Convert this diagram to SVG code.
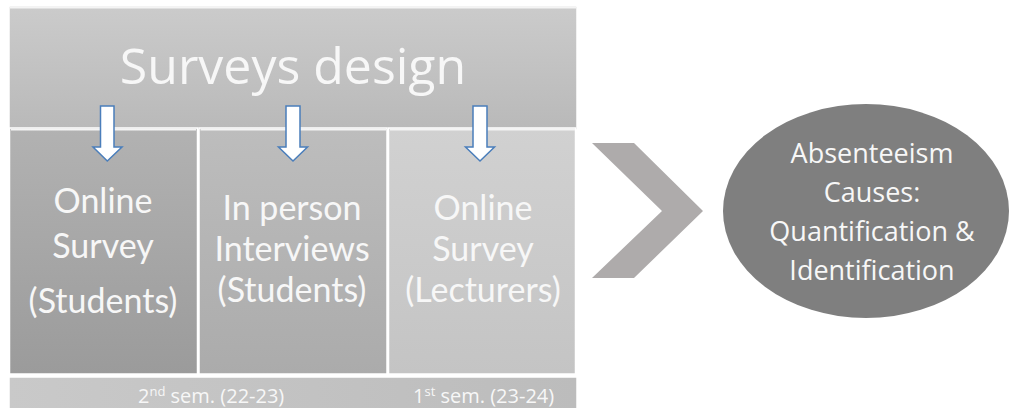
<svg xmlns="http://www.w3.org/2000/svg" width="1011" height="408" viewBox="0 0 1011 408">
  <defs>
    <linearGradient id="gTop" x1="0" y1="0" x2="0" y2="1">
      <stop offset="0" stop-color="#cbcbcb"/>
      <stop offset="1" stop-color="#b9b9b9"/>
    </linearGradient>
    <linearGradient id="gC1" x1="0" y1="0" x2="0" y2="1">
      <stop offset="0" stop-color="#b2b2b2"/>
      <stop offset="1" stop-color="#9b9b9b"/>
    </linearGradient>
    <linearGradient id="gC2" x1="0" y1="0" x2="0" y2="1">
      <stop offset="0" stop-color="#bdbdbd"/>
      <stop offset="1" stop-color="#ababab"/>
    </linearGradient>
    <linearGradient id="gC3" x1="0" y1="0" x2="0" y2="1">
      <stop offset="0" stop-color="#d1d1d1"/>
      <stop offset="1" stop-color="#c4c4c4"/>
    </linearGradient>
    <linearGradient id="gBand" x1="0" y1="0" x2="1" y2="0">
      <stop offset="0" stop-color="#c9c9c9"/>
      <stop offset="1" stop-color="#bcbcbc"/>
    </linearGradient>
    <style>
      .box { stroke: #ffffff; stroke-width: 1.5; }
      .hl { stroke: #f4f4f4; stroke-width: 2; fill: none; }
      .lbl { font-family: "Open Sans", "Liberation Sans", sans-serif; fill: #f7f7f7; text-anchor: middle; }
      .col { font-family: Lato, "Open Sans", sans-serif; font-size: 34px; }
      .sem { font-family: "Open Sans", "Liberation Sans", sans-serif; fill: #f7f7f7; font-size: 20px; }
      .arrow { fill: #ffffff; stroke: #4a7ebb; stroke-width: 1.5; stroke-linejoin: miter; }
    </style>
  </defs>
  <rect width="1011" height="408" fill="#ffffff"/>

  <g id="surveys-design">
    <rect class="box" x="9" y="6" width="568" height="124" fill="url(#gTop)"/>
    <path class="hl" d="M10 7.5 H576"/>
    <text class="lbl" x="293" y="84" font-size="50">Surveys design</text>
  </g>

  <g id="online-survey-students">
    <rect class="box" x="9.5" y="128" width="188" height="246" fill="url(#gC1)"/>
    <path class="hl" d="M11 129.5 H196"/>
    <text class="lbl col" x="103" y="213">Online</text>
    <text class="lbl col" x="103" y="258">Survey</text>
    <text class="lbl col" x="103" y="313">(Students)</text>
  </g>

  <g id="in-person-interviews">
    <rect class="box" x="199" y="128" width="188" height="246" fill="url(#gC2)"/>
    <path class="hl" d="M200.5 129.5 H386"/>
    <text class="lbl col" x="292" y="220">In person</text>
    <text class="lbl col" x="292" y="261">Interviews</text>
    <text class="lbl col" x="292" y="302">(Students)</text>
  </g>

  <g id="online-survey-lecturers">
    <rect class="box" x="388.5" y="128" width="187" height="246" fill="url(#gC3)"/>
    <path class="hl" d="M390 129.5 H575"/>
    <text class="lbl col" x="483" y="220">Online</text>
    <text class="lbl col" x="483" y="261">Survey</text>
    <text class="lbl col" x="483" y="302">(Lecturers)</text>
  </g>

  <g id="semesters">
    <rect class="box" x="9" y="377" width="568" height="36" fill="url(#gBand)"/>
    <text class="sem" x="138" y="403">2<tspan font-size="13" dy="-7">nd</tspan><tspan dy="7"> sem. (22-23)</tspan></text>
    <text class="sem" x="413" y="403">1<tspan font-size="13" dy="-7">st</tspan><tspan dy="7"> sem. (23-24)</tspan></text>
  </g>

  <g id="connectors">
    <path class="arrow" d="M100.5 106 H114 V147 H122 L107.3 161 L93 147 H100.5 Z"/>
    <path class="arrow" d="M286 106 H300 V147 H307.5 L293 161 L278.5 147 H286 Z"/>
    <path class="arrow" d="M473 106 H487 V147 H494.5 L480 161 L465.5 147 H473 Z"/>
    <polygon points="592,143 634,143 703,211 634,278 592,278 662,211" fill="#aeabab"/>
  </g>

  <g id="absenteeism-causes">
    <ellipse cx="866" cy="211" rx="143" ry="107" fill="#7f7f7f"/>
    <text class="lbl" font-size="27" x="872" y="163">Absenteeism</text>
    <text class="lbl" font-size="27" x="872" y="202">Causes:</text>
    <text class="lbl" font-size="27" x="872" y="241">Quantification &amp;</text>
    <text class="lbl" font-size="27" x="872" y="280">Identification</text>
  </g>
</svg>
